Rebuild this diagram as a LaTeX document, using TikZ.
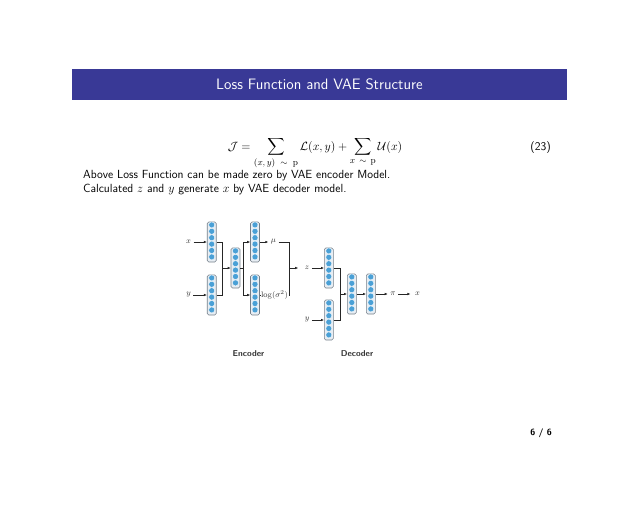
\documentclass[tikz,border=0pt]{standalone}
\usepackage{amsmath}
\usetikzlibrary{arrows.meta}

\definecolor{barblue}{RGB}{57,57,150}
\definecolor{cellblue}{RGB}{74,160,214}
\definecolor{layergray}{RGB}{118,128,138}
\definecolor{layerfill}{RGB}{232,238,244}
\definecolor{labelgray}{RGB}{55,55,55}

\begin{document}
\begin{tikzpicture}[x=1pt,y=-1pt,line width=.35pt,font=\sffamily\fontsize{11.8}{14}\selectfont,
  layer/.style={draw=layergray,fill=layerfill,rounded corners=1.5pt,minimum width=9pt,minimum height=40pt,inner sep=0pt,line width=.6pt},
  neuron/.style={fill=cellblue,draw=white,line width=.3pt},
  lbl/.style={inner sep=2.5pt,font=\fontsize{8}{9}\selectfont,text=labelgray},
  part/.style={font=\sffamily\bfseries\fontsize{8.5}{10}\selectfont,text=black!80},
  conn/.style={-{Latex[length=3pt,width=2.6pt]},line width=.6pt,draw=black!85},
  wire/.style={line width=.6pt,draw=black!85}]
\useasboundingbox (0,0) rectangle (638,509);
\fill[white] (0,0) rectangle (638,509);
% frame title
\fill[barblue] (72,68.5) rectangle (567,99.5);
\node[text=white,font=\sffamily\fontsize{15.1}{18}\selectfont] (title) at (319.5,84) {Loss Function and VAE Structure};
% equation and text
\node[anchor=base,font=\fontsize{12.5}{15}\selectfont] (eq) at (315,150) {$\displaystyle \mathcal{J} = \sum_{(x,\,y)\mkern10mu\sim\mkern10mu\mathrm{p}} \mathcal{L}(x,y) + \sum_{x\mkern8mu\sim\mkern8mu\mathrm{p}} \mathcal{U}(x)$};
\node[anchor=base east,inner sep=0pt] (eqno) at (551,150) {(23)};
\node[anchor=base west,inner sep=0pt] (ln1) at (83,178) {Above Loss Function can be made zero by VAE encoder Model.};
\node[anchor=base west,inner sep=0pt] (ln2) at (83,192) {Calculated $z$ and $y$ generate $x$ by VAE decoder model.};
% layers
\node[layer] (e1) at (211.7,242) {};
\node[layer] (e2) at (211.7,295) {};
\node[layer] (e3) at (235.5,268) {};
\node[layer] (e4) at (255,242) {};
\node[layer] (e5) at (255,295) {};
\node[layer] (d1) at (328.8,268) {};
\node[layer] (d2) at (328.8,320) {};
\node[layer] (d3) at (351.8,294) {};
\node[layer] (d4) at (370.8,294) {};
\foreach \ly in {e1,e2,e3,e4,e5,d1,d2,d3,d4}
  \foreach \k in {1,...,6}
    \path[neuron] ([yshift={-(\k-0.5)*6.4pt}]\ly.north) circle (3pt);
% labels
\node[lbl] (inx) at (188.5,242) {$x$};
\node[lbl] (iny) at (188.5,295) {$y$};
\node[lbl] (mu) at (273.5,242) {$\mu$};
\node[lbl,inner xsep=1pt] (lv) at (274.5,295) {$\log(\sigma^2)$};
\node[lbl] (zz) at (307,268) {$z$};
\node[lbl] (iny2) at (307,320) {$y$};
\node[lbl] (piout) at (393,294) {$\pi$};
\node[lbl] (outx) at (417.5,294) {$x$};
\coordinate (j1) at (222.5,268);
\coordinate (j2) at (243,268);
\coordinate (br) at (289.5,268);
\coordinate (j3) at (340.7,294);
% encoder
\draw[conn] (inx) -- (e1);
\draw[conn] (iny) -- (e2);
\draw[wire] (e1) -| (j1) (e2) -| (j1);
\draw[conn] (j1) -- (e3);
\draw[wire] (e3) -- (j2);
\draw[conn] (j2) |- (e4);
\draw[conn] (j2) |- (e5);
\draw[conn] (e4) -- (mu);
\draw[wire] (e5) -- (lv);
\draw[wire] (mu) -| (br) (lv) -| (br);
\draw[conn,shorten >=4pt] (br) -- (zz);
% decoder
\draw[conn] (zz) -- (d1);
\draw[conn] (iny2) -- (d2);
\draw[wire] (d1) -| (j3) (d2) -| (j3);
\draw[conn] (j3) -- (d3);
\draw[conn] (d3) -- (d4);
\draw[conn] (d4) -- (piout);
\draw[conn,shorten >=2pt] (piout) -- (outx);
\node[part] (enc) at (248.5,354) {Encoder};
\node[part] (dec) at (357,354) {Decoder};
% frame number
\node[anchor=base,font=\sffamily\bfseries\fontsize{9}{11}\selectfont] (pg) at (541,435.5) {6 / 6};
\end{tikzpicture}
\end{document}
